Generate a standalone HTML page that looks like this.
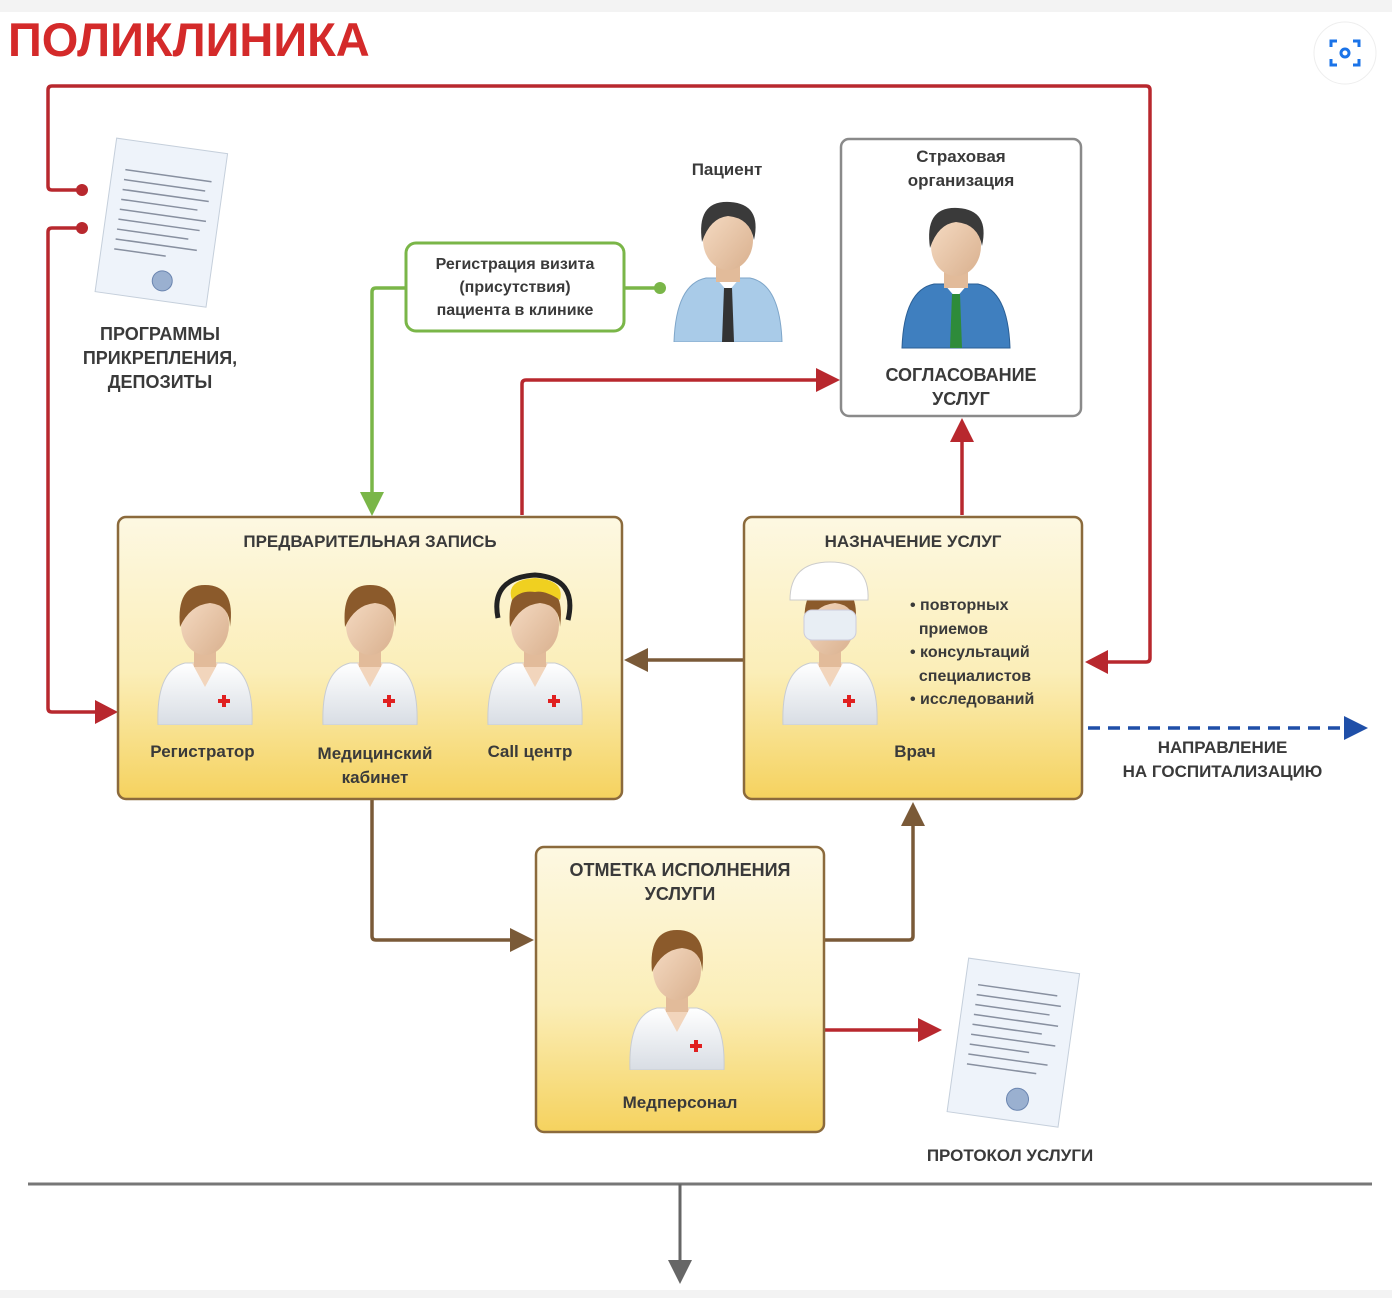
<!DOCTYPE html>
<html><head><meta charset="utf-8">
<style>
html,body{margin:0;padding:0;background:#fff;}
body{width:1392px;height:1298px;position:relative;overflow:hidden;font-family:"Liberation Sans",Arial,sans-serif;}
.t{position:absolute;font-weight:bold;color:#3a3a3a;text-align:center;white-space:nowrap;}
</style></head><body>
<div style="position:absolute;left:0;top:0;width:1392px;height:12px;background:#f3f3f3"></div>
<div style="position:absolute;left:0;top:1290px;width:1392px;height:8px;background:#f3f3f3"></div>
<svg width="1392" height="1298" style="position:absolute;left:0;top:0">
<defs>
<linearGradient id="yb" x1="0" y1="0" x2="0" y2="1"><stop offset="0" stop-color="#fdf8e2"/><stop offset="0.55" stop-color="#fbeeb8"/><stop offset="1" stop-color="#f5d25e"/></linearGradient>
<linearGradient id="coat" x1="0" y1="0" x2="0" y2="1"><stop offset="0" stop-color="#fff"/><stop offset="1" stop-color="#d8dde4"/></linearGradient>
<linearGradient id="skin" x1="0" y1="0" x2="1" y2="1"><stop offset="0" stop-color="#f6dcc4"/><stop offset="1" stop-color="#d9b08e"/></linearGradient>
<symbol id="nurse" viewBox="0 0 110 150">
<path d="M8 150 Q6 95 35 88 L75 88 Q104 95 102 150Z" fill="url(#coat)" stroke="#c8ccd2"/>
<path d="M42 88 L55 112 L68 88" fill="#f2d5bc"/>
<rect x="44" y="70" width="22" height="22" fill="#e2bb9a"/>
<ellipse cx="55" cy="50" rx="24" ry="30" fill="url(#skin)"/>
<path d="M30 52 Q26 10 55 10 Q86 10 80 52 Q80 30 60 28 Q40 30 30 52Z" fill="#8b5a2b"/>
<rect x="72" y="120" width="4" height="12" fill="#e02020"/><rect x="68" y="124" width="12" height="4" fill="#e02020"/>
</symbol>
<symbol id="man" viewBox="0 0 120 150">
<path d="M6 150 Q8 92 38 86 L82 86 Q112 92 114 150Z" fill="#a9cbe8" stroke="#7fa6c9"/>
<path d="M48 86 L60 100 L72 86" fill="#fff"/>
<path d="M56 96 L64 96 L66 150 L54 150Z" fill="#333"/>
<rect x="48" y="66" width="24" height="24" fill="#e2bb9a"/>
<ellipse cx="60" cy="48" rx="25" ry="30" fill="url(#skin)"/>
<path d="M34 50 Q28 8 62 10 Q94 12 86 48 Q82 26 60 24 Q42 26 34 50Z" fill="#3a3a3a"/>
</symbol>
</defs>
<g fill="none" stroke="#b8282e" stroke-width="3.5">
<path d="M82 190 H52 Q48 190 48 186 V90 Q48 86 52 86 H1146 Q1150 86 1150 90 V658 Q1150 662 1146 662 H1105"/>
<path d="M82 228 H52 Q48 228 48 232 V708 Q48 712 52 712 H96"/>
<path d="M522 515 V384 Q522 380 526 380 H818"/>
<path d="M962 515 V440"/>
<path d="M825 1030 H920"/>
</g>
<g fill="#b8282e">
<circle cx="82" cy="190" r="6"/><circle cx="82" cy="228" r="6"/>
<path d="M1085 662 L1108 650 L1108 674Z"/>
<path d="M118 712 L95 700 L95 724Z"/>
<path d="M840 380 L816 368 L816 392Z"/>
<path d="M962 418 L950 442 L974 442Z"/>
<path d="M942 1030 L918 1018 L918 1042Z"/>
</g>
<g fill="none" stroke="#7ab648" stroke-width="3.5"><path d="M405 288 H376 Q372 288 372 292 V495"/><path d="M625 288 H660"/></g>
<circle cx="660" cy="288" r="6" fill="#7ab648"/>
<path d="M372 516 L360 492 L384 492Z" fill="#7ab648"/>
<rect x="406" y="243" width="218" height="88" rx="10" fill="#fff" stroke="#7ab648" stroke-width="3"/>
<rect x="841" y="139" width="240" height="277" rx="8" fill="#fff" stroke="#8a8a8a" stroke-width="2.5"/>
<g fill="none" stroke="#7a5a38" stroke-width="3.5">
<path d="M743 660 H645"/>
<path d="M372 800 V936 Q372 940 376 940 H512"/>
<path d="M825 940 H909 Q913 940 913 936 V824"/>
</g>
<g fill="#7a5a38">
<path d="M624 660 L648 648 L648 672Z"/>
<path d="M534 940 L510 928 L510 952Z"/>
<path d="M913 802 L901 826 L925 826Z"/>
</g>
<rect x="118" y="517" width="504" height="282" rx="8" fill="url(#yb)" stroke="#8b6a3c" stroke-width="2.5"/>
<rect x="744" y="517" width="338" height="282" rx="8" fill="url(#yb)" stroke="#8b6a3c" stroke-width="2.5"/>
<rect x="536" y="847" width="288" height="285" rx="8" fill="url(#yb)" stroke="#8b6a3c" stroke-width="2.5"/>
<path d="M1088 728 H1345" stroke="#1f4fa8" stroke-width="3.5" stroke-dasharray="12 8" fill="none"/>
<path d="M1368 728 L1344 716 L1344 740Z" fill="#1f4fa8"/>
<path d="M28 1184 H1372" stroke="#777" stroke-width="3"/>
<path d="M680 1184 V1262" stroke="#666" stroke-width="3"/>
<path d="M680 1284 L668 1260 L692 1260Z" fill="#666"/>
<g transform="rotate(8 160 225)"><rect x="105" y="145" width="112" height="155" fill="#eef3fa" stroke="#c5cfdb"/>
<g stroke="#8890a0" stroke-width="1.5"><path d="M118 175 H205 M118 185 H200 M118 195 H205 M118 205 H195 M118 215 H205 M118 225 H200 M118 235 H190 M118 245 H200 M118 255 H170"/></g>
<circle cx="170" cy="280" r="10" fill="#9ab0d0" stroke="#6b85b0"/></g>
<g transform="rotate(8 1012 1045)"><rect x="957" y="965" width="112" height="155" fill="#eef3fa" stroke="#c5cfdb"/>
<g stroke="#8890a0" stroke-width="1.5"><path d="M970 990 H1050 M970 1000 H1055 M970 1010 H1045 M970 1020 H1055 M970 1030 H1040 M970 1040 H1055 M970 1050 H1030 M970 1060 H1050 M970 1070 H1040"/></g>
<circle cx="1025" cy="1098" r="11" fill="#9ab0d0" stroke="#6b85b0"/></g>
<use href="#man" x="668" y="192" width="120" height="150"/>
<g transform="translate(896,198)"><path d="M6 150 Q8 92 38 86 L82 86 Q112 92 114 150Z" fill="#3f7fbf" stroke="#2b5f95"/><path d="M48 86 L60 100 L72 86" fill="#fff"/><path d="M56 96 L64 96 L66 150 L54 150Z" fill="#2e8b3a"/><rect x="48" y="66" width="24" height="24" fill="#e2bb9a"/><ellipse cx="60" cy="48" rx="25" ry="30" fill="url(#skin)"/><path d="M34 50 Q28 8 62 10 Q94 12 86 48 Q82 26 60 24 Q42 26 34 50Z" fill="#3a3a3a"/></g>
<use href="#nurse" x="150" y="575" width="110" height="150"/>
<use href="#nurse" x="315" y="575" width="110" height="150"/>
<use href="#nurse" x="480" y="575" width="110" height="150"/>
<path d="M498 618 Q490 578 535 575 Q578 578 568 620" fill="none" stroke="#222" stroke-width="5"/>
<path d="M512 600 Q505 580 535 578 Q565 580 560 600 Q545 590 535 592 Q520 590 512 600Z" fill="#f0d020"/>
<use href="#nurse" x="775" y="575" width="110" height="150"/>
<path d="M790 600 Q790 562 830 562 Q870 562 868 600Z" fill="#fff" stroke="#ccc"/>
<rect x="804" y="610" width="52" height="30" rx="8" fill="#e8eef4" stroke="#ccd"/>
<use href="#nurse" x="622" y="920" width="110" height="150"/>
<circle cx="1345" cy="53" r="31" fill="#fff" stroke="#eee"/>
<g fill="none" stroke="#1a73e8" stroke-width="3"><path d="M1331 47 V41 H1337 M1353 41 H1359 V47 M1359 59 V65 H1353 M1337 65 H1331 V59"/><circle cx="1345" cy="53" r="4"/></g>
</svg>
<div class="t" style="left:8px;top:12px;font-size:47px;color:#d42a2a;text-align:left">ПОЛИКЛИНИКА</div>
<div class="t" style="left:60px;top:322px;width:200px;font-size:18px;line-height:24px">ПРОГРАММЫ<br>ПРИКРЕПЛЕНИЯ,<br>ДЕПОЗИТЫ</div>
<div class="t" style="left:406px;top:253px;width:218px;font-size:16px;line-height:23px">Регистрация визита<br>(присутствия)<br>пациента в клинике</div>
<div class="t" style="left:667px;top:160px;width:120px;font-size:17px">Пациент</div>
<div class="t" style="left:841px;top:145px;width:240px;font-size:17px;line-height:24px">Страховая<br>организация</div>
<div class="t" style="left:841px;top:363px;width:240px;font-size:18px;line-height:24px">СОГЛАСОВАНИЕ<br>УСЛУГ</div>
<div class="t" style="left:118px;top:532px;width:504px;font-size:17px">ПРЕДВАРИТЕЛЬНАЯ ЗАПИСЬ</div>
<div class="t" style="left:130px;top:742px;width:145px;font-size:17px">Регистратор</div>
<div class="t" style="left:300px;top:742px;width:150px;font-size:17px;line-height:24px">Медицинский<br>кабинет</div>
<div class="t" style="left:460px;top:742px;width:140px;font-size:17px">Call центр</div>
<div class="t" style="left:744px;top:532px;width:338px;font-size:17px">НАЗНАЧЕНИЕ УСЛУГ</div>
<div class="t" style="left:910px;top:594px;font-size:16px;line-height:23.5px;text-align:left">• повторных<br>&nbsp;&nbsp;приемов<br>• консультаций<br>&nbsp;&nbsp;специалистов<br>• исследований</div>
<div class="t" style="left:860px;top:742px;width:110px;font-size:17px">Врач</div>
<div class="t" style="left:1090px;top:736px;width:265px;font-size:17px;line-height:24px">НАПРАВЛЕНИЕ<br>НА ГОСПИТАЛИЗАЦИЮ</div>
<div class="t" style="left:536px;top:858px;width:288px;font-size:18px;line-height:24px">ОТМЕТКА ИСПОЛНЕНИЯ<br>УСЛУГИ</div>
<div class="t" style="left:536px;top:1093px;width:288px;font-size:17px">Медперсонал</div>
<div class="t" style="left:900px;top:1146px;width:220px;font-size:17px">ПРОТОКОЛ УСЛУГИ</div>
</body></html>
